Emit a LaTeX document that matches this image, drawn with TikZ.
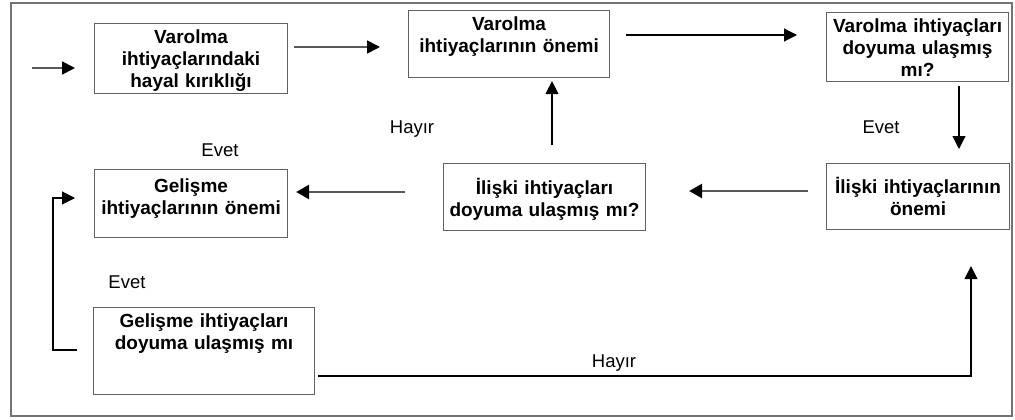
\documentclass[tikz,border=0pt]{standalone}
\usepackage{fontspec}
\setmainfont{Liberation Sans}
\usetikzlibrary{arrows.meta}
\definecolor{boxgray}{rgb}{0.38,0.38,0.38}
\definecolor{framegray}{rgb}{0.45,0.45,0.45}
\definecolor{linegray}{rgb}{0.35,0.35,0.35}
\begin{document}
\begin{tikzpicture}[x=1pt,y=-1pt,
  box/.style={draw=boxgray, line width=1.1pt, anchor=north west, inner sep=0pt,
    align=center, font=\bfseries\fontsize{19}{22}\selectfont},
  lbl/.style={anchor=base, inner sep=0pt, font=\fontsize{18.5}{22}\selectfont},
  arrk/.style={draw=black, line width=1.1pt, -{Triangle[length=13pt,width=13pt,color=black]}},
  arrg/.style={draw=linegray, line width=1.8pt, -{Triangle[length=13pt,width=13pt,color=black]}},
  arrgt/.style={draw=linegray, line width=2.6pt, -{Triangle[length=13pt,width=14pt,color=black]}}
]
\useasboundingbox (0,0) rectangle (1015,420);
\draw[framegray, line width=1.4pt] (11,3) rectangle (1012,416);

% boxes
\node[box, text width=193pt, text height=20pt, text depth=50pt] (b1) at (94,23)
  {Varolma\\ihtiyaçlarındaki\\hayal kırıklığı};
\node[box, text width=201pt, text height=20pt, text depth=47pt] (b2) at (408,10)
  {Varolma\\ihtiyaçlarının önemi};
\node[box, text width=182pt, text height=20pt, text depth=49pt] (b3) at (826,12)
  {Varolma ihtiyaçları\\doyuma ulaşmış\\mı?};
\node[box, text width=183pt, text height=30pt, text depth=36pt] (b4) at (826,163)
  {İlişki ihtiyaçlarının\\önemi};
\node[box, text width=202pt, text height=31pt, text depth=36pt] (b5) at (443,163)
  {İlişki ihtiyaçları\\doyuma ulaşmış mı?};
\node[box, text width=193pt, text height=23pt, text depth=45pt] (b6) at (94,169)
  {Gelişme\\ihtiyaçlarının önemi};
\node[box, text width=221pt, text height=20pt, text depth=67pt] (b7) at (93,307)
  {Gelişme ihtiyaçları\\doyuma ulaşmış mı};

% helper coordinates
\coordinate (start) at (32,68);
\coordinate (r47) at (0,47);
\coordinate (r35) at (0,35);
\coordinate (c959) at (959,0);
\coordinate (r191) at (0,191);
\coordinate (c552) at (552,0);
\coordinate (r192) at (0,192);
\coordinate (r350) at (0,350);
\coordinate (r198) at (0,198);
\coordinate (c53) at (53,0);
\coordinate (c971) at (971,0);
\coordinate (r376) at (0,376);

% connectors
\draw[arrg, shorten >=19pt] (start) -- (start -| b1.west);
\draw[arrg, shorten <=6pt, shorten >=28pt] (b1.east |- r47) -- (b2.west |- r47);
\draw[arrk, shorten <=16pt, shorten >=29pt] (b2.east |- r35) -- (b3.west |- r35);
\draw[arrk, shorten <=4pt, shorten >=14pt] (b3.south -| c959) -- (b4.north -| c959);
\draw[arrgt, shorten <=18pt, shorten >=43pt] (b4.west |- r191) -- (b5.east |- r191);
\draw[arrk, shorten <=18pt, shorten >=3pt] (b5.north -| c552) -- (b2.south -| c552);
\draw[arrgt, shorten <=38pt, shorten >=8pt] (b5.west |- r192) -- (b6.east |- r192);
\draw[arrk, shorten <=16pt, shorten >=19pt] (b7.west |- r350) -| (c53 |- r198) -- (b6.west |- r198);
\draw[arrk, shorten <=3pt, shorten >=36pt] (b7.east |- r376) -| (b4.south -| c971);

% labels
\node[lbl] (hayir1) at (412,133) {Hayır};
\node[lbl] (evet1) at (881,133) {Evet};
\node[lbl] (evet2) at (220,156) {Evet};
\node[lbl] (evet3) at (127,288) {Evet};
\node[lbl] (hayir2) at (614,367) {Hayır};
\end{tikzpicture}
\end{document}
